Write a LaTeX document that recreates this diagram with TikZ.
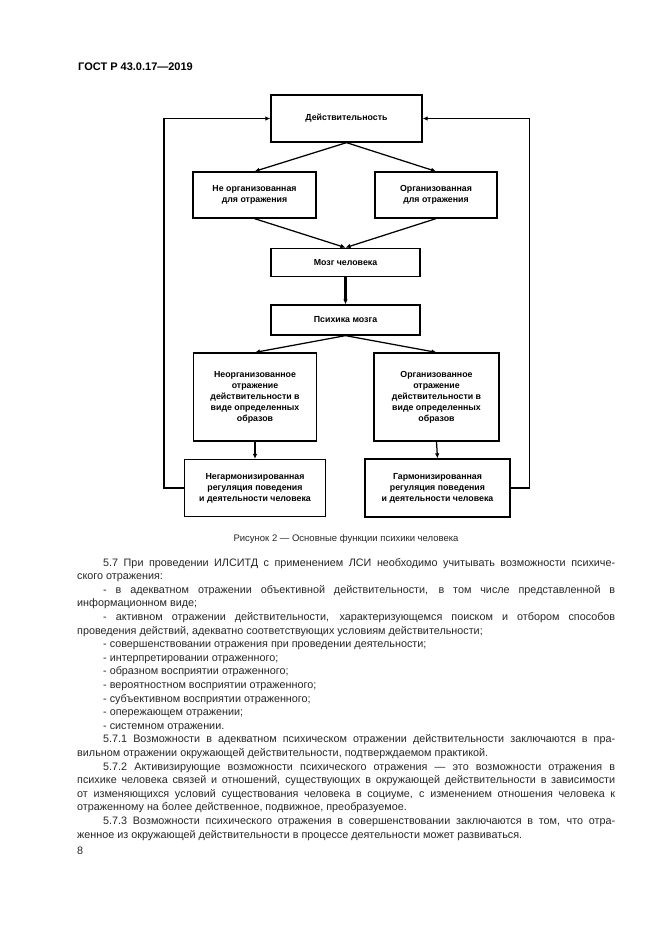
\documentclass[tikz,border=0pt]{standalone}
\usepackage{fontspec}
\setmainfont{Liberation Sans}
\usetikzlibrary{arrows.meta}

\tikzset{
  box/.style={draw, line width=1.25pt, align=center, inner sep=2pt,
    font=\fontsize{8.8}{11}\selectfont\bfseries},
  link/.style={line width=1.25pt, -{Latex[length=5pt,width=4.5pt]}},
  bodyline/.style={anchor=base west, inner sep=0pt,
    font=\fontsize{10.8}{12}\selectfont, text=black!85},
}
\newcommand{\fullline}[1]{\hbox to 538pt{\spaceskip=0.278em plus 1fil minus 0.12em\relax #1}}
\newcommand{\indline}[1]{\hbox to 512pt{\spaceskip=0.278em plus 1fil minus 0.12em\relax #1}}

\begin{document}
\begin{tikzpicture}[x=1pt,y=-1pt]
  %%%%% PAGE %%%%%
  \fill[white] (0,0) rectangle (661,935);
  \useasboundingbox (0,0) rectangle (661,935);

  \node[anchor=base west, inner sep=0pt, font=\fontsize{11}{12}\selectfont\bfseries] (head) at (78,70) {ГОСТ Р 43.0.17—2019};

  %%%%% DIAGRAM %%%%%
  \node[box, minimum width=151pt, minimum height=47pt] (real) at (346.5,118.5) {Действительность};

  \node[box, minimum width=123pt, minimum height=46pt] (unorg) at (254.5,195) {Не организованная\\для отражения};
  \node[box, minimum width=122pt, minimum height=46pt] (org) at (436,195) {Организованная\\для отражения};

  \node[box, minimum width=149pt, minimum height=28.5pt] (brain) at (345.5,262.5) {Мозг человека};
  \node[box, minimum width=149pt, minimum height=30pt] (psy) at (345.5,320) {Психика мозга};

  \node[box, minimum width=123pt, minimum height=88pt] (unimg) at (255,397) {Неорганизованное\\отражение\\действительности в\\виде определенных\\образов};
  \node[box, minimum width=125pt, minimum height=88pt] (orgimg) at (436.5,397) {Организованное\\отражение\\действительности в\\виде определенных\\образов};

  \node[box, minimum width=141pt, minimum height=57pt] (unreg) at (255,488) {Негармонизированная\\регуляция поведения\\и деятельности человека};
  \node[box, minimum width=145pt, minimum height=58pt] (reg) at (437.5,488) {Гармонизированная\\регуляция поведения\\и деятельности человека};

  \draw[link] (real.south) -- (unorg.north);
  \draw[link] (real.south) -- (org.north);
  \draw[link] (unorg.south) -- (brain.north);
  \draw[link] (org.south) -- (brain.north);
  \draw[link, line width=2.4pt] (brain.south) -- (psy.north);
  \draw[link] (psy.south) -- (unimg.north);
  \draw[link] (psy.south) -- (orgimg.north);
  \draw[link] (unimg.south) -- (unreg.north);
  \draw[link] (orgimg.south) -- (reg.north);

  % feedback
  \draw[link] (unreg.west) -- ++(-20,0) |- (real.west);
  \draw[link] (reg.east) -- ++(19,0) |- (real.east);

  \node[anchor=base, inner sep=0pt, font=\fontsize{9.5}{11}\selectfont, text=black!85] (caption) at (346,541) {Рисунок 2 — Основные функции психики человека};

  %%%%% TEXT %%%%%
  \node[bodyline] (l1) at (103,566) {\indline{5.7 При проведении ИЛСИТД с применением ЛСИ необходимо учитывать возможности психиче-}};
  \node[bodyline] (l2) at (77,579.6) {ского отражения:};
  \node[bodyline] (l3) at (103,593.2) {\indline{- в адекватном отражении объективной действительности, в том числе представленной в}};
  \node[bodyline] (l4) at (77,606.8) {информационном виде;};
  \node[bodyline] (l5) at (103,620.4) {\indline{- активном отражении действительности, характеризующемся поиском и отбором способов}};
  \node[bodyline] (l6) at (77,634) {проведения действий, адекватно соответствующих условиям действительности;};
  \node[bodyline] (l7) at (103,647.6) {- совершенствовании отражения при проведении деятельности;};
  \node[bodyline] (l8) at (103,661.2) {- интерпретировании отраженного;};
  \node[bodyline] (l9) at (103,674.8) {- образном восприятии отраженного;};
  \node[bodyline] (l10) at (103,688.4) {- вероятностном восприятии отраженного;};
  \node[bodyline] (l11) at (103,702) {- субъективном восприятии отраженного;};
  \node[bodyline] (l12) at (103,715.6) {- опережающем отражении;};
  \node[bodyline] (l13) at (103,729.2) {- системном отражении.};
  \node[bodyline] (l14) at (103,742.8) {\indline{5.7.1 Возможности в адекватном психическом отражении действительности заключаются в пра-}};
  \node[bodyline] (l15) at (77,756.4) {вильном отражении окружающей действительности, подтверждаемом практикой.};
  \node[bodyline] (l16) at (103,770) {\indline{5.7.2 Активизирующие возможности психического отражения — это возможности отражения в}};
  \node[bodyline] (l17) at (77,783.6) {\fullline{психике человека связей и отношений, существующих в окружающей действительности в зависимости}};
  \node[bodyline] (l18) at (77,797.2) {\fullline{от изменяющихся условий существования человека в социуме, с изменением отношения человека к}};
  \node[bodyline] (l19) at (77,810.8) {отраженному на более действенное, подвижное, преобразуемое.};
  \node[bodyline] (l20) at (103,824.4) {\indline{5.7.3 Возможности психического отражения в совершенствовании заключаются в том, что отра-}};
  \node[bodyline] (l21) at (77,838) {женное из окружающей действительности в процессе деятельности может развиваться.};
  \node[bodyline] (page) at (77,854) {8};
\end{tikzpicture}
\end{document}
